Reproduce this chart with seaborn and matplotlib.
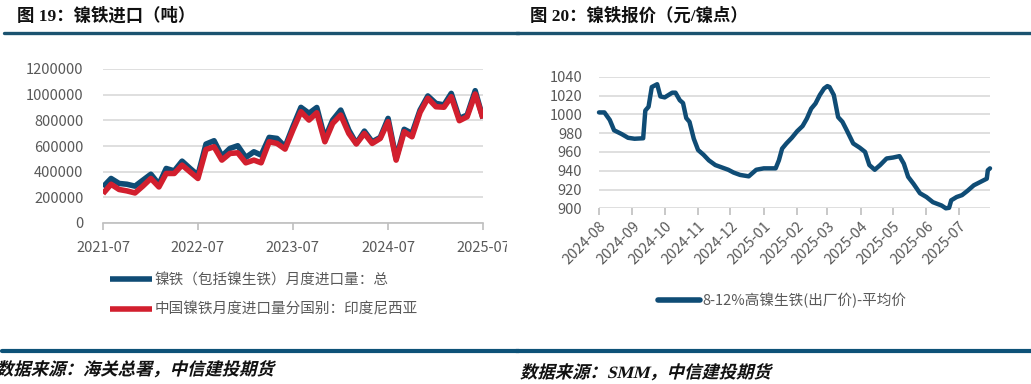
import pandas as pd
import matplotlib.pyplot as plt
import matplotlib.dates as mdates
import matplotlib.ticker as mticker
import seaborn as sns
from matplotlib.lines import Line2D
from matplotlib.patches import PathPatch, Rectangle
from matplotlib.textpath import TextPath
from matplotlib.font_manager import FontProperties
from matplotlib.transforms import Affine2D

# ---- data: 镍铁进口（吨）, monthly ----
import_months = pd.date_range('2021-07-01', '2025-07-01', freq='MS')
import_total = [281000, 347000, 308000, 302000, 287000, 333000, 380000, 302000,
                425000, 406000, 482000, 425000, 373000, 615000, 641000, 521000,
                581000, 602000, 511000, 555000, 529000, 667000, 659000, 594000,
                750000, 901000, 855000, 900000, 659000, 802000, 880000, 724000,
                620000, 716000, 633000, 667000, 815000, 503000, 730000, 698000,
                880000, 990000, 932000, 920000, 1010000, 815000, 841000, 1031000,
                815000]
import_indonesia = [229000, 302000, 261000, 250000, 234000, 287000, 347000, 281000,
                    386000, 386000, 451000, 398000, 347000, 573000, 594000, 490000,
                    542000, 547000, 469000, 490000, 469000, 633000, 620000, 576000,
                    724000, 867000, 802000, 859000, 633000, 776000, 841000, 698000,
                    616000, 698000, 620000, 659000, 789000, 490000, 711000, 672000,
                    862000, 972000, 906000, 902000, 984000, 797000, 828000, 1005000,
                    815000]
label_total = '镍铁（包括镍生铁）月度进口量：总'
label_indo = '中国镍铁月度进口量分国别：印度尼西亚'

# ---- data: 镍铁报价（元/镍点）----
price_dates = pd.to_datetime([
    '2024-08-01', '2024-08-06', '2024-08-11', '2024-08-15', '2024-08-22', '2024-08-28',
    '2024-09-03', '2024-09-11', '2024-09-13', '2024-09-16', '2024-09-19', '2024-09-24',
    '2024-09-27', '2024-10-01', '2024-10-08', '2024-10-11', '2024-10-15', '2024-10-18',
    '2024-10-21', '2024-10-24', '2024-10-28', '2024-11-01', '2024-11-06', '2024-11-11',
    '2024-11-17', '2024-11-23', '2024-11-29', '2024-12-04', '2024-12-10', '2024-12-18',
    '2024-12-21', '2024-12-25', '2025-01-01', '2025-01-12', '2025-01-15', '2025-01-18',
    '2025-01-22', '2025-01-27', '2025-02-01', '2025-02-06', '2025-02-10', '2025-02-14',
    '2025-02-18', '2025-02-22', '2025-02-26', '2025-03-01', '2025-03-03', '2025-03-07',
    '2025-03-11', '2025-03-15', '2025-03-19', '2025-03-25', '2025-03-31', '2025-04-05',
    '2025-04-09', '2025-04-14', '2025-04-19', '2025-04-25', '2025-05-01', '2025-05-07',
    '2025-05-11', '2025-05-15', '2025-05-20', '2025-05-26', '2025-06-01', '2025-06-07',
    '2025-06-15', '2025-06-19', '2025-06-22', '2025-06-24', '2025-06-29', '2025-07-04',
    '2025-07-09', '2025-07-15', '2025-07-21', '2025-07-27', '2025-07-28', '2025-07-30'])
price_values = [1002, 1002, 994, 983, 979, 975,
                974, 974.5, 1004, 1008, 1029, 1032,
                1019, 1018, 1023, 1023, 1015, 1012,
                996, 992, 974, 962, 957, 951,
                946, 943.5, 941, 938, 935.5, 934,
                937, 941, 942.5, 942.5, 951, 963.5,
                969, 975, 982, 987.5, 995.5, 1006,
                1011.5, 1020.5, 1027.5, 1030, 1029, 1020.5,
                997, 992, 983, 969, 964.5, 960,
                946, 941, 946, 953, 954, 955.5,
                947.5, 933.5, 926, 916, 912, 906.5,
                903, 900, 900.5, 908.5, 912, 914,
                918.5, 924.5, 928, 931.5, 940.5, 942.5]
label_price = '8-12%高镍生铁(出厂价)-平均价'

BLUE = '#0f4c75'
RED = '#d21f2e'
RULE = '#1b5370'
GRID = '#d9d9d9'
TICK = '#595959'

sns.set_theme(style='white')
plt.rcParams['font.family'] = ['Noto Sans CJK SC', 'DejaVu Sans']
plt.rcParams['axes.unicode_minus'] = False

fig = plt.figure(figsize=(10.31, 3.84), dpi=100)
W, H = 1031, 384


def fx(px):
    return px / W


def fy(py):
    return 1 - py / H


def italic_text(x_px, y_px, s, size=12):
    # fake italic: skew a text path
    prop = FontProperties(family=['Liberation Serif', 'Noto Sans CJK SC'], weight='bold')
    tp = TextPath((0, 0), s, size=size, prop=prop)
    tr = (Affine2D().skew_deg(14, 0).scale(1 / 72.0)
          .translate(x_px / 100.0, (H - y_px) / 100.0) + fig.dpi_scale_trans)
    fig.add_artist(PathPatch(tp, transform=tr, facecolor='#111111', edgecolor='none'))


def style_axes(ax):
    ax.grid(axis='y', color=GRID, lw=1.2)
    ax.grid(axis='x', visible=False)
    for side in ['left', 'right', 'top']:
        ax.spines[side].set_visible(False)
    ax.spines['bottom'].set_color('#bfbfbf')
    ax.spines['bottom'].set_linewidth(1.2)
    ax.tick_params(axis='x', bottom=True, length=5, width=1.2, color='#bfbfbf',
                   labelsize=10.5, labelcolor=TICK, pad=4)
    ax.tick_params(axis='y', left=False, labelsize=10.5, labelcolor=TICK, pad=8)
    ax.set_xlabel('')
    ax.set_ylabel('')


# ---------------- left panel ----------------
df_imp = pd.DataFrame({'month': list(import_months) * 2,
                       'value': import_total + import_indonesia,
                       'series': [label_total] * len(import_total) + [label_indo] * len(import_indonesia)})

ax1 = fig.add_axes([fx(103), fy(223), fx(380), (223 - 69) / H])
sns.lineplot(data=df_imp, x='month', y='value', hue='series', palette=[BLUE, RED],
             lw=4, ax=ax1, legend=True)
ax1.set_ylim(0, 1200000)
ax1.set_yticks(range(0, 1200001, 200000))
ax1.yaxis.set_major_formatter(mticker.StrMethodFormatter('{x:.0f}'))
ax1.set_xlim(import_months[0], import_months[-1])
ax1.set_xticks(pd.date_range('2021-07-01', '2025-07-01', freq='12MS'))
ax1.xaxis.set_major_formatter(mdates.DateFormatter('%Y-%m'))
style_axes(ax1)
ax1.tick_params(axis='x', pad=8)
for ln in ax1.get_lines():
    ln.set_solid_capstyle('butt')
ax1.legend(loc='upper left', bbox_to_anchor=(fx(110), fy(273)), bbox_transform=fig.transFigure,
           frameon=False, fontsize=10.5, handlelength=2.9, handletextpad=0.15,
           labelspacing=1.05, borderpad=0, borderaxespad=0, labelcolor=TICK)
for h in ax1.get_legend().legend_handles:
    h.set_linewidth(4)

# the last x label is cut by the panel edge in the source picture
fig.add_artist(Rectangle((fx(507), fy(252)), fx(10), 24 / H, transform=fig.transFigure,
                         facecolor='white', edgecolor='none', zorder=10))

# ---------------- right panel ----------------
df_price = pd.DataFrame({'date': price_dates, 'price': price_values})
ax2 = fig.add_axes([fx(599), fy(208.3), fx(391), (208.3 - 76.7) / H])
sns.lineplot(data=df_price, x='date', y='price', color=BLUE, lw=3.2, ax=ax2,
             label=label_price, clip_on=False)
ax2.set_ylim(900, 1040)
ax2.set_yticks(range(900, 1041, 20))
ax2.set_xlim(pd.Timestamp('2024-08-01'), price_dates[-1])
ax2.set_xticks(pd.date_range('2024-08-01', '2025-07-01', freq='MS'))
ax2.xaxis.set_major_formatter(mdates.DateFormatter('%Y-%m'))
style_axes(ax2)
ax2.spines['bottom'].set_visible(False)
ax2.tick_params(axis='y', pad=6, labelsize=10.5)
plt.setp(ax2.get_xticklabels(), rotation=45, ha='right', rotation_mode='anchor')
ax2.tick_params(axis='x', pad=3)
ax2.legend(loc='upper left', bbox_to_anchor=(fx(658), fy(293)), bbox_transform=fig.transFigure,
           frameon=False, fontsize=10.5, handlelength=2.9, handletextpad=0.15,
           borderpad=0, borderaxespad=0, labelcolor=TICK)
for h in ax2.get_legend().legend_handles:
    h.set_linewidth(4)

# ---------------- titles, rules, sources ----------------
title_font = ['Liberation Serif', 'Noto Sans CJK SC']
fig.text(fx(17), fy(16), '图 19：镍铁进口（吨）', fontsize=12.5, fontweight='bold',
         family=title_font, color='#111111', va='center', ha='left')
fig.text(fx(530), fy(16), '图 20：镍铁报价（元/镍点）', fontsize=12.5, fontweight='bold',
         family=title_font, color='#111111', va='center', ha='left')

fig.add_artist(Line2D([fx(4), fx(519)], [fy(33)] * 2, color=RULE, lw=2.4))
fig.add_artist(Line2D([fx(516), fx(1031)], [fy(33)] * 2, color=RULE, lw=2.4))
fig.add_artist(Line2D([fx(2), fx(519)], [fy(351)] * 2, color='#0d5278', lw=3))
fig.add_artist(Line2D([fx(516), fx(1031)], [fy(351)] * 2, color='#0d5278', lw=3))

italic_text(-4, 375, '数据来源：海关总署，中信建投期货', size=12.5)
italic_text(520, 378, '数据来源：SMM，中信建投期货', size=12.5)

fig.savefig('out.png', dpi=100)
